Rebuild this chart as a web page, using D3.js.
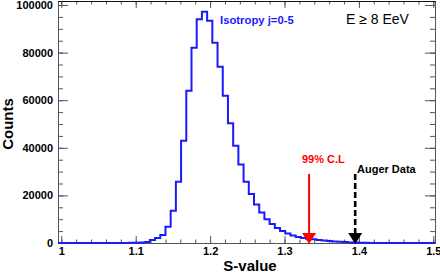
<!DOCTYPE html>
<html>
<head>
<meta charset="utf-8">
<script src="https://cdn.jsdelivr.net/npm/d3@7"></script>
<style>
  body { margin: 0; background: #fff; }
  text { font-family: "Liberation Sans", Arial, sans-serif; }
</style>
</head>
<body>
<div id="chart"></div>
<script>
// histogram of S-value, bins of width 0.007 starting at S = 1.0
var binStart = 1.0;
var binWidth = 0.007;
var counts = [
  0, 0, 0, 0, 0, 0, 0, 0, 0, 0,
  0, 10, 30, 60, 120, 250, 450, 1260, 2100, 3360,
  6850, 13570, 25760, 43000, 64000, 82070, 94000, 97190, 93400, 84170,
  74080, 61900, 50300, 40890, 33000, 25760, 20590, 16200, 12820, 9960,
  7980, 6300, 5040, 3990, 3150, 2520, 2100, 1800, 1550, 1260,
  1050, 840, 670, 500, 380, 250, 170, 100, 60, 40,
  25, 15, 10, 5, 3, 2, 1, 0, 0, 0,
  0, 0
];

var xTicks = [1, 1.1, 1.2, 1.3, 1.4, 1.5];
var xTickLabels = ['1', '1.1', '1.2', '1.3', '1.4', '1.5'];
var yTicks = [0, 20000, 40000, 60000, 80000, 100000];
var yTickLabels = ['0', '20000', '40000', '60000', '80000', '100000'];

var clValue = 1.333;     // 99% C.L
var augerValue = 1.395;  // Auger data

var width = 440;
var height = 273;
var frameLeft = 58, frameRight = 435, frameTop = 1, frameBottom = 243;

var svg = d3.select('#chart')
    .append('svg')
    .attr('width', width)
    .attr('height', height);

var x = d3.scaleLinear()
    .domain([0.99556, 1.50228])
    .range([frameLeft, frameRight]);

var y = d3.scaleLinear()
    .domain([0, 101680])
    .range([frameBottom, frameTop]);

var axisColor = '#555';

// minor ticks
var xMinor = d3.range(0, 26).map(function(i) { return 1 + i * 0.02; });
var yMinor = d3.range(0, 21).map(function(i) { return i * 5000; });

function plainTicks(g) {
  g.select('.domain').remove();
  g.selectAll('line').attr('stroke', axisColor);
}

function boldLabels(g) {
  plainTicks(g);
  g.selectAll('text')
      .attr('font-size', 11)
      .attr('font-weight', 'bold')
      .attr('fill', '#000')
      .attr('font-family', '"Liberation Sans", Arial, sans-serif');
}

// bottom axis
svg.append('g')
    .attr('transform', 'translate(0,' + frameBottom + ')')
    .call(d3.axisBottom(x).tickValues(xMinor).tickSizeInner(-3.5).tickSizeOuter(0).tickFormat(''))
    .call(plainTicks);
svg.append('g')
    .attr('transform', 'translate(0,' + frameBottom + ')')
    .call(d3.axisBottom(x).tickValues(xTicks).tickSizeInner(-7).tickSizeOuter(0).tickPadding(4)
      .tickFormat(function(d, i) { return xTickLabels[i]; }))
    .call(boldLabels);

// top axis
svg.append('g')
    .attr('transform', 'translate(0,' + frameTop + ')')
    .call(d3.axisTop(x).tickValues(xMinor).tickSizeInner(-3.5).tickSizeOuter(0).tickFormat(''))
    .call(plainTicks);
svg.append('g')
    .attr('transform', 'translate(0,' + frameTop + ')')
    .call(d3.axisTop(x).tickValues(xTicks).tickSizeInner(-7).tickSizeOuter(0).tickFormat(''))
    .call(plainTicks);

// left axis
svg.append('g')
    .attr('transform', 'translate(' + frameLeft + ',0)')
    .call(d3.axisLeft(y).tickValues(yMinor).tickSizeInner(-5).tickSizeOuter(0).tickFormat(''))
    .call(plainTicks);
svg.append('g')
    .attr('transform', 'translate(' + frameLeft + ',0)')
    .call(d3.axisLeft(y).tickValues(yTicks).tickSizeInner(-10).tickSizeOuter(0)
      .tickFormat(function(d, i) { return yTickLabels[i]; }))
    .call(boldLabels)
    .call(function(g) { g.selectAll('text').attr('x', -5); });

// right axis
svg.append('g')
    .attr('transform', 'translate(' + frameRight + ',0)')
    .call(d3.axisRight(y).tickValues(yMinor).tickSizeInner(-5).tickSizeOuter(0).tickFormat(''))
    .call(plainTicks);
svg.append('g')
    .attr('transform', 'translate(' + frameRight + ',0)')
    .call(d3.axisRight(y).tickValues(yTicks).tickSizeInner(-10).tickSizeOuter(0).tickFormat(''))
    .call(plainTicks);

// frame
svg.append('rect')
    .attr('x', frameLeft + 0.5)
    .attr('y', frameTop + 0.5)
    .attr('width', frameRight - frameLeft)
    .attr('height', frameBottom - frameTop)
    .attr('fill', 'none')
    .attr('stroke', axisColor);
svg.append('line')
    .attr('x1', frameLeft).attr('x2', frameRight + 1)
    .attr('y1', frameTop + 0.5).attr('y2', frameTop + 0.5)
    .attr('stroke', '#111');

// histogram outline
var points = [{s: x.domain()[0], c: 0}];
counts.forEach(function(c, i) {
  points.push({s: binStart + i * binWidth, c: c});
});
points.push({s: binStart + counts.length * binWidth, c: 0});

svg.append('clipPath')
    .attr('id', 'frameClip')
    .append('rect')
    .attr('x', frameLeft).attr('y', frameTop)
    .attr('width', frameRight - frameLeft).attr('height', frameBottom - frameTop + 2);

var line = d3.line()
    .x(function(d) { return x(d.s); })
    .y(function(d) { return y(d.c); })
    .curve(d3.curveStepAfter);

svg.append('path')
    .datum(points)
    .attr('clip-path', 'url(#frameClip)')
    .attr('d', line)
    .attr('fill', 'none')
    .attr('stroke', '#1a1aff')
    .attr('stroke-width', 2);

// arrows
function arrow(sVal, color, dashed) {
  var ax = x(sVal);
  var tip = y(0) + 1;
  svg.append('line')
      .attr('x1', ax).attr('x2', ax)
      .attr('y1', 174).attr('y2', tip - 8)
      .attr('stroke', color)
      .attr('stroke-width', dashed ? 2.6 : 2)
      .attr('stroke-dasharray', dashed ? '6,3' : null);
  svg.append('path')
      .attr('d', 'M' + (ax - 7) + ',' + (tip - 11) + 'L' + (ax + 7) + ',' + (tip - 11) + 'L' + ax + ',' + tip + 'Z')
      .attr('fill', color);
}
arrow(clValue, '#ff0000', false);
arrow(augerValue, '#000000', true);

// texts
svg.append('text')
    .attr('x', 220).attr('y', 24)
    .attr('font-size', 11.3).attr('font-weight', 'bold')
    .attr('fill', '#1a1aff')
    .text('Isotropy j=0-5');

svg.append('text')
    .attr('x', 346).attr('y', 24)
    .attr('font-size', 14)
    .attr('fill', '#000')
    .text('E \u2265 8 EeV');

svg.append('text')
    .attr('x', 302).attr('y', 163)
    .attr('font-size', 11).attr('font-weight', 'bold')
    .attr('fill', '#ff0000')
    .text('99% C.L');

svg.append('text')
    .attr('x', 357).attr('y', 173)
    .attr('font-size', 11).attr('font-weight', 'bold')
    .attr('fill', '#000')
    .text('Auger Data');

svg.append('text')
    .attr('x', 250).attr('y', 271)
    .attr('text-anchor', 'middle')
    .attr('font-size', 15).attr('font-weight', 'bold')
    .attr('fill', '#000')
    .text('S-value');

svg.append('text')
    .attr('transform', 'translate(13,124) rotate(-90)')
    .attr('text-anchor', 'middle')
    .attr('font-size', 15).attr('font-weight', 'bold')
    .attr('fill', '#000')
    .text('Counts');
</script>
</body>
</html>
